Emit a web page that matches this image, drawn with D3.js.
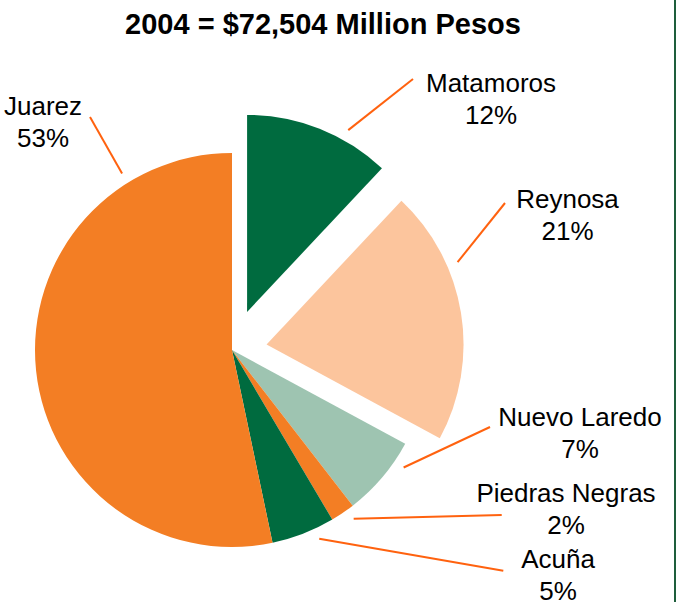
<!DOCTYPE html>
<html>
<head>
<meta charset="utf-8">
<script src="https://cdn.jsdelivr.net/npm/d3@7/dist/d3.min.js"></script>
<style>
  html, body { margin: 0; padding: 0; background: #fff; }
  svg { display: block; }
  text { font-family: "Liberation Sans", Arial, sans-serif; }
</style>
</head>
<body>
<svg id="chart" width="683" height="602"></svg>
<script>
// ---- data ----
const title = "2004 = $72,504 Million Pesos";
const cities = ["Matamoros", "Reynosa", "Nuevo Laredo", "Piedras Negras", "Acuña", "Juarez"];
// slice sizes (printed labels are rounded)
const shares = [12.0, 20.9, 6.6, 2.0, 5.2, 53.3];
const percentLabels = ["12%", "21%", "7%", "2%", "5%", "53%"];

// ---- styling / layout (not data) ----
const colors = ["#006B3F", "#FCC59D", "#9EC4B1", "#F37E24", "#006B3F", "#F37E24"];
const explode = [41, 35, 0, 0, 0, 0];
const leaderAngleDeg = [29.1, 66.7, 124.4, 144.2, 155.2, 328.1];
const labelPos = [
  { x: 491, y: 92, lx: 413, ly: 79 },
  { x: 567.5, y: 208, lx: 505, ly: 203 },
  { x: 580, y: 425.5, lx: 490, ly: 427 },
  { x: 566, y: 501.5, lx: 501.7, ly: 515 },
  { x: 558, y: 567.5, lx: 503.3, ly: 570.7 },
  { x: 43, y: 115, lx: 90, ly: 117 }
];

const svg = d3.select("#chart");
const cx = 232, cy = 350, R = 197;

svg.append("text")
  .attr("x", 323).attr("y", 33.5)
  .attr("text-anchor", "middle")
  .attr("font-size", 29).attr("font-weight", "bold")
  .attr("fill", "#000")
  .text(title);

// right border line
svg.append("line")
  .attr("x1", 675).attr("x2", 675).attr("y1", 0).attr("y2", 602)
  .attr("stroke", "#1E5E3C").attr("stroke-width", 2);

const rows = cities.map((c, i) => ({ city: c, value: shares[i], label: percentLabels[i], i }));
const pie = d3.pie().sort(null).value(d => d.value).startAngle(0).endAngle(2 * Math.PI);
const arcs = pie(rows);
const arc = d3.arc().innerRadius(0).outerRadius(R);

const g = svg.append("g").attr("transform", `translate(${cx},${cy})`);

function offsetOf(d) {
  const mid = (d.startAngle + d.endAngle) / 2;
  const e = explode[d.data.i];
  return [e * Math.sin(mid), -e * Math.cos(mid)];
}

g.selectAll("path.slice")
  .data(arcs)
  .join("path")
  .attr("class", "slice")
  .attr("transform", d => { const o = offsetOf(d); return `translate(${o[0]},${o[1]})`; })
  .attr("d", arc)
  .attr("fill", d => colors[d.data.i]);

// leader lines
const leaderR = R + 11;
svg.selectAll("line.leader")
  .data(arcs)
  .join("line")
  .attr("class", "leader")
  .attr("x1", d => { const o = offsetOf(d); const a = leaderAngleDeg[d.data.i] * Math.PI / 180; return cx + o[0] + leaderR * Math.sin(a); })
  .attr("y1", d => { const o = offsetOf(d); const a = leaderAngleDeg[d.data.i] * Math.PI / 180; return cy + o[1] - leaderR * Math.cos(a); })
  .attr("x2", d => labelPos[d.data.i].lx)
  .attr("y2", d => labelPos[d.data.i].ly)
  .attr("stroke", "#FF620F")
  .attr("stroke-width", 2);

// labels
const lbl = svg.selectAll("text.lbl")
  .data(arcs)
  .join("text")
  .attr("class", "lbl")
  .attr("text-anchor", "middle")
  .attr("font-size", 26)
  .attr("fill", "#000");
lbl.append("tspan")
  .attr("x", d => labelPos[d.data.i].x)
  .attr("y", d => labelPos[d.data.i].y)
  .text(d => d.data.city);
lbl.append("tspan")
  .attr("x", d => labelPos[d.data.i].x)
  .attr("y", d => labelPos[d.data.i].y + 32)
  .text(d => d.data.label);
</script>
</body>
</html>
